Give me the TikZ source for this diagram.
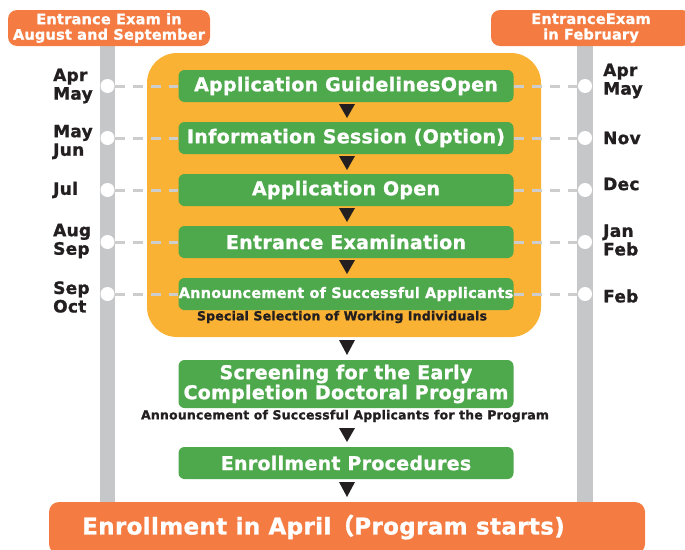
\documentclass[tikz,border=0pt]{standalone}
\usepackage{fontspec}
\setmainfont{DejaVu Sans}[LetterSpace=1.5,BoldFeatures={FakeBold=1.2}]
\newfontfamily\cjk{Noto Sans CJK JP}[FakeBold=1.2]
\definecolor{hdr}{HTML}{F47C43}
\definecolor{big}{HTML}{F9B233}
\definecolor{grn}{HTML}{4EA84C}
\definecolor{bar}{HTML}{C6C7C9}
\definecolor{dsh}{HTML}{CDCDCD}
\definecolor{ink}{HTML}{231F20}
\begin{document}
\begin{tikzpicture}[x=1pt,y=-1pt,
  hdrbox/.style={fill=hdr,rounded corners=9pt,text=white,font=\bfseries\fontsize{14.5}{15.5}\selectfont,align=center,inner sep=0pt},
  gbox/.style={fill=grn,rounded corners=6pt,text=white,font=\bfseries\fontsize{19}{21}\selectfont,minimum width=335pt,minimum height=32pt,inner sep=0pt,align=center},
  dot/.style={circle,fill=white,minimum size=14pt,inner sep=0pt},
  mon/.style={font=\bfseries\fontsize{17}{18.5}\selectfont,text=ink,align=left,inner sep=0pt},
  dline/.style={dsh,line width=3pt,dash pattern=on 10pt off 8pt},
  sub/.style={font=\bfseries\fontsize{12.5}{14}\selectfont,text=ink,inner sep=0pt},
  tri/.style={fill=ink}]
\useasboundingbox (0,0) rectangle (685,549);
% gray bars
\fill[bar] (100,46) rectangle (115,505);
\fill[bar] (577,46) rectangle (593,505);
% headers
\node[hdrbox,minimum width=202pt,minimum height=36pt] (hl) at (109,28) {Entrance Exam in\\August and September};
\node[hdrbox,minimum width=200pt,minimum height=36pt] (hr) at (591,28) {EntranceExam\\in February};
% big orange
\fill[big,rounded corners=30pt] (147,53) rectangle (541,337);
% green boxes
\node[gbox] (g1) at (346,86) {Application GuidelinesOpen};
\node[gbox] (g2) at (346,138) {Information Session (Option)};
\node[gbox] (g3) at (346,190) {Application Open};
\node[gbox] (g4) at (346,242) {Entrance Examination};
\node[gbox,font=\bfseries\fontsize{14.5}{16}\selectfont] (g5) at (346,294) {Announcement of Successful Applicants};
\node[sub] (s1) at (342,317) {Special Selection of Working Individuals};
\node[gbox,minimum height=48pt,font=\bfseries\fontsize{19}{20}\selectfont] (g6) at (346,384) {Screening for the Early\\Completion Doctoral Program};
\node[sub] (s2) at (345,416) {Announcement of Successful Applicants for the Program};
\node[gbox] (g7) at (346,463) {Enrollment Procedures};
% bottom
\node[fill=hdr,rounded corners=10pt,minimum width=596pt,minimum height=52pt,inner sep=0pt] (bt) at (347,528) {};
\node[text=white,font=\bfseries\fontsize{23}{25}\selectfont,anchor=west,inner sep=0pt] (btt) at (82,527) {Enrollment in April{\cjk （}Program starts)};
% circles
\foreach \n/\y in {1/86,2/138,3/190,4/242,5/294}{
  \node[dot] (l\n) at (107.5,\y) {};
  \node[dot] (r\n) at (585,\y) {};
  \draw[dline] (l\n.east) -- (g\n.west);
  \draw[dline] (g\n.east) -- (r\n.west);
}
% month labels
\node[mon,anchor=west] (ml1) at (53,86) {Apr\\May};
\node[mon,anchor=west] (ml2) at (53,142) {May\\Jun};
\node[mon,anchor=west] (ml3) at (53,190) {Jul};
\node[mon,anchor=west] (ml4) at (53,241) {Aug\\Sep};
\node[mon,anchor=west] (ml5) at (53,297) {Sep\\Oct};
\node[mon,anchor=west] (mr1) at (603,81) {Apr\\May};
\node[mon,anchor=west] (mr2) at (603,138) {Nov};
\node[mon,anchor=west] (mr3) at (603,184) {Dec};
\node[mon,anchor=west] (mr4) at (603,240) {Jan\\Feb};
\node[mon,anchor=west] (mr5) at (603,296) {Feb};
% triangles
\foreach \a/\b in {104/118,156/170,208/222,260/274,340/355,428/442,482/497}{
  \fill[tri] (339,\a) -- (355,\a) -- (347,\b) -- cycle;
}
\end{tikzpicture}
\end{document}
